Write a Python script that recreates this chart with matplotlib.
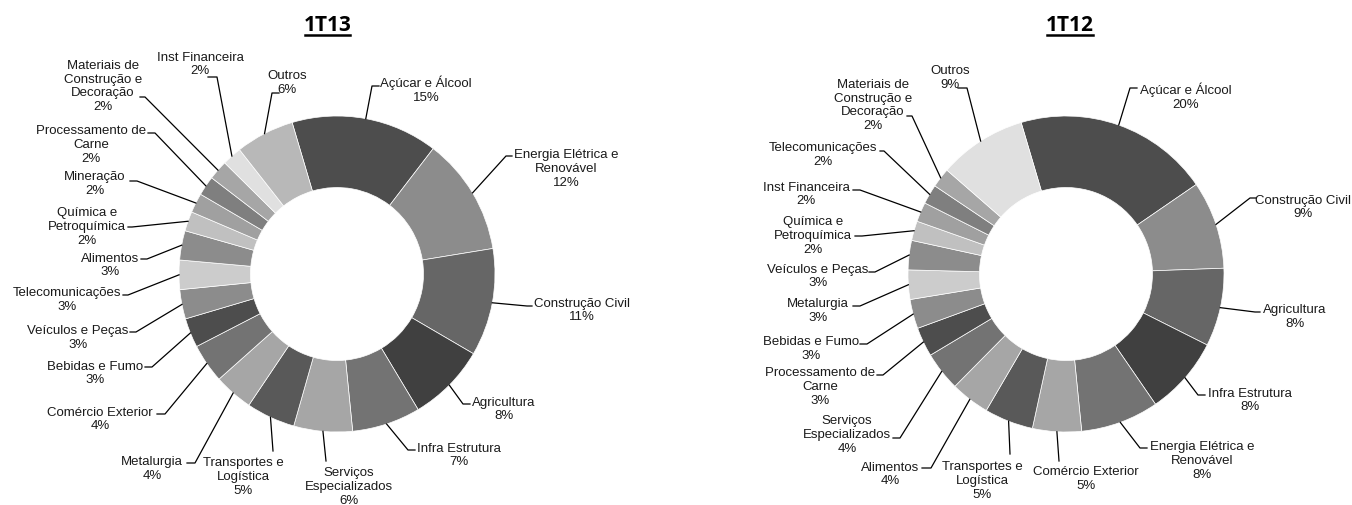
import matplotlib
matplotlib.use('Agg')
import numpy as np
import matplotlib.pyplot as plt
from matplotlib.lines import Line2D

# ---- dados: carteira por setor (%) ----
setores_13 = ['Açúcar e Álcool', 'Energia Elétrica e\nRenovável', 'Construção Civil',
              'Agricultura', 'Infra Estrutura', 'Serviços\nEspecializados',
              'Transportes e\nLogística', 'Metalurgia', 'Comércio Exterior',
              'Bebidas e Fumo', 'Veículos e Peças', 'Telecomunicações', 'Alimentos',
              'Química e\nPetroquímica', 'Mineração', 'Processamento de\nCarne',
              'Materiais de\nConstrução e\nDecoração', 'Inst Financeira', 'Outros']
valores_13 = [15, 12, 11, 8, 7, 6, 5, 4, 4, 3, 3, 3, 3, 2, 2, 2, 2, 2, 6]

setores_12 = ['Açúcar e Álcool', 'Construção Civil', 'Agricultura', 'Infra Estrutura',
              'Energia Elétrica e\nRenovável', 'Comércio Exterior', 'Transportes e\nLogística',
              'Alimentos', 'Serviços\nEspecializados', 'Processamento de\nCarne',
              'Bebidas e Fumo', 'Metalurgia', 'Veículos e Peças', 'Química e\nPetroquímica',
              'Inst Financeira', 'Telecomunicações', 'Materiais de\nConstrução e\nDecoração',
              'Outros']
valores_12 = [20, 9, 8, 8, 8, 5, 5, 4, 4, 3, 3, 3, 3, 2, 2, 2, 2, 9]

# ---- estilo / layout ----
cores = ['#4d4d4d', '#8c8c8c', '#666666', '#404040', '#737373', '#a6a6a6', '#595959',
         '#a6a6a6', '#737373', '#4d4d4d', '#8c8c8c', '#cccccc', '#8c8c8c', '#c0c0c0',
         '#a0a0a0', '#7f7f7f', '#a6a6a6', '#e0e0e0', '#b8b8b8']
cores_12 = cores[:17] + ['#e0e0e0']

# posicao dos rotulos em pixels: (x texto, y texto, x cotovelo, y cotovelo, x fim)
rot_13 = [(426, 89.5, 372, 87, 379), (566, 169, 506, 157, 512), (582, 310.5, 527, 307, 532),
          (504, 409.5, 463, 405, 470), (459, 455.5, 408, 451, 415), (349, 487, 326, 462, 326),
          (243.5, 477, 273, 452, 273), (152, 469, 195, 464, 187), (100, 419.5, 165, 415, 157),
          (95, 373.5, 152, 368, 145), (78, 338, 136, 333, 130), (67, 300, 128, 296, 123),
          (110, 265.5, 147, 260, 141), (87, 227, 132, 228, 128), (95, 184, 137, 182, 130),
          (91, 145, 155, 134, 148), (103, 86.5, 145, 98, 140), (200, 64.5, 217, 78, 208),
          (287, 83, 272, 94, 279)]
rot_12 = [(1186, 96.5, 1130, 89, 1137), (1303, 207.5, 1250, 199, 1256),
          (1295, 317, 1255, 313, 1260), (1250, 400.5, 1198, 396, 1205),
          (1202, 461, 1140, 449, 1147), (1086, 479, 1059, 462, 1059),
          (982, 481, 1010, 455, 1010), (890, 474.5, 931, 469, 922),
          (847, 435, 900, 439, 893), (820, 387, 883, 376, 877),
          (811, 349, 867, 345, 860), (818, 311, 860, 307, 853),
          (818, 276.5, 875, 273, 869), (813, 236, 862, 237, 855),
          (806, 194.5, 860, 191, 853), (823, 155, 884, 152, 880),
          (873, 105.5, 912, 117, 907), (950, 78, 967, 89, 958)]

W, H = 1352, 506
R_EXT, R_INT = 158, 86.5
FONTE = 'Liberation Sans'
COR_TXT = '#1a1a1a'

fig = plt.figure(figsize=(W / 100, H / 100), dpi=100)
ax = fig.add_axes([0, 0, 1, 1])


def rosca(centro, valores, setores, cores_s, rotulos, titulo, x_tit):
    cx, cy = centro
    fatias, _ = ax.pie(valores, colors=cores_s, startangle=-106.5, counterclock=True,
                       radius=R_EXT, center=(cx, cy),
                       wedgeprops=dict(width=R_EXT - R_INT, edgecolor='white', linewidth=0.5))
    for fatia, nome, v, (tx, ty, ex, ey, fx) in zip(fatias, setores, valores, rotulos):
        # linha de chamada a partir do meio da fatia
        meio = np.deg2rad((fatia.theta1 + fatia.theta2) / 2)
        px = cx + R_EXT * np.cos(meio)
        py = cy + R_EXT * np.sin(meio)
        ax.add_line(Line2D([px, ex, fx], [py, ey, ey], color='black', lw=0.9))
        ax.text(tx, ty, f'{nome}\n{v}%', ha='center', va='center', multialignment='center',
                fontsize=9.5, family=FONTE, color=COR_TXT, linespacing=1.22)
    t = ax.text(x_tit, 25, titulo, ha='center', va='center', fontsize=15,
                family='Open Sans', fontweight='bold', color='black')
    return t


t1 = rosca((337, 275), valores_13, setores_13, cores, rot_13, '1T13', 327.5)
t2 = rosca((1066, 275), valores_12, setores_12, cores_12, rot_12, '1T12', 1070)

ax.set_xlim(0, W)
ax.set_ylim(H, 0)
ax.set_aspect('equal')
ax.axis('off')

# sublinhado dos titulos
fig.canvas.draw()
for t in (t1, t2):
    bb = t.get_window_extent()
    ax.add_line(Line2D([bb.x0 + 1, bb.x1 - 1], [35.5, 35.5], color='black', lw=1.8))

fig.savefig('out.png', dpi=100, facecolor='white')
